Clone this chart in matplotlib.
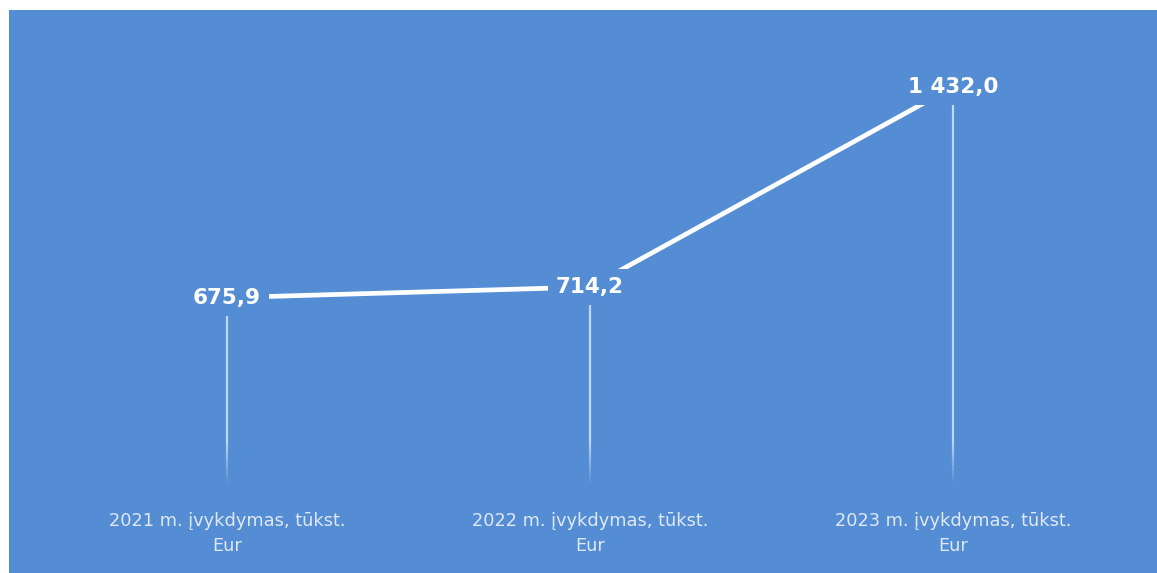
import numpy as np
import matplotlib.pyplot as plt
from matplotlib.patches import Rectangle
from matplotlib.collections import LineCollection

categories = ['2021 m. įvykdymas, tūkst.\nEur',
              '2022 m. įvykdymas, tūkst.\nEur',
              '2023 m. įvykdymas, tūkst.\nEur']
values = [675.9, 714.2, 1432.0]
value_labels = ['675,9', '714,2', '1 432,0']

bg = '#548DD4'

fig = plt.figure(figsize=(11.57, 5.73), dpi=100)
fig.patch.set_facecolor('white')
# blue panel behind the chart
fig.add_artist(Rectangle((9 / 1157, 0), 1 - 9 / 1157, 1 - 10 / 573,
                         transform=fig.transFigure, facecolor=bg,
                         edgecolor='none', zorder=-5))

ax = fig.add_axes([45.5 / 1157, 87 / 573, 1089 / 1157, 445.8 / 573])
ax.set_facecolor('none')
ax.set_zorder(1)
x = np.arange(len(values))

# drop lines, fading towards the axis
for xi, v in zip(x, values):
    ys = np.linspace(0, v, 80)
    segs = [[(xi, ys[i]), (xi, ys[i + 1])] for i in range(len(ys) - 1)]
    alphas = np.clip(ys[:-1] / 160, 0, 1) * 0.8
    cols = [(0.87, 0.92, 0.98, a) for a in alphas]
    ax.add_collection(LineCollection(segs, colors=cols, linewidths=1.6, zorder=1))

ax.plot(x, values, color='white', lw=3.4, solid_capstyle='butt', zorder=2)

for xi, v, lab in zip(x, values, value_labels):
    ax.text(xi, v, lab, ha='center', va='center', color='white',
            fontsize=15.5, fontweight='bold', zorder=3,
            bbox=dict(facecolor=bg, edgecolor='none', pad=6))

ax.set_xlim(-0.5, 2.5)
ax.set_ylim(0, 1600)
ax.set_yticks([])
ax.set_xticks(x)
ax.set_xticklabels(categories, color='#dfe8f5', fontsize=12.8, linespacing=1.5)
ax.tick_params(axis='x', length=0, pad=19)
for s in ax.spines.values():
    s.set_visible(False)

fig.savefig('out.png', dpi=100, facecolor=fig.get_facecolor())
